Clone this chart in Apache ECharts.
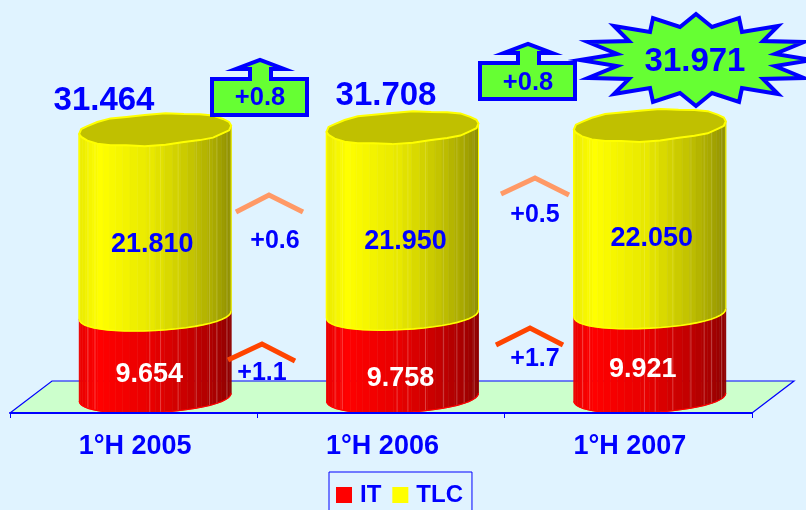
<!DOCTYPE html>
<html>
<head>
<meta charset="utf-8">
<style>
    html, body { margin: 0; padding: 0; background: #e0f3ff; overflow: hidden; }
    #chart { width: 806px; height: 510px; }
</style>
<script src="https://cdn.jsdelivr.net/npm/echarts@6/dist/echarts.min.js"></script>
</head>
<body>
<div id="chart"></div>
<script>
const categories = ['1°H 2005', '1°H 2006', '1°H 2007'];
const itValues = [9654, 9758, 9921];
const tlcValues = [21810, 21950, 22050];
const totalLabels = ['31.464', '31.708', '31.971'];
const itLabels = ['9.654', '9.758', '9.921'];
const tlcLabels = ['21.810', '21.950', '22.050'];
const totalChange = ['+0.8', '+0.8'];
const tlcChange = ['+0.6', '+0.5'];
const itChange = ['+1.1', '+1.7'];

const FONT = '"Liberation Sans", Arial, sans-serif';
const BLUE = '#0000ff';
const GREEN = '#66ff33';

// pixel nudges of the value labels, the source chart placed them by hand
const itNudge = [[-6, 3], [-2, 7], [-7, -1]];
const tlcNudge = [[-3, 6], [3, 5], [2, 4]];

// brightness across the cylinder, left edge to right edge
const shade = [[0, 0.92], [0.14, 1], [0.5, 0.9], [0.72, 0.78], [0.9, 0.66], [1, 0.56]];
// where the thin facet lines sit across the cylinder
const facetLines = [0.06, 0.11, 0.47, 0.53, 0.64, 0.76, 0.85, 0.9, 0.97];
// small irregularity of the lid outline, the source polygon is not a clean ellipse
const lidWobble = [0, 0.6, -0.4, 0.6, 0, -0.6, 0.4, 0.7, -0.4, 0.4, 0.6, 0, -0.6, 0.4, -0.4, 0.6, 0, -0.6, 0.4, 0.4, -0.4, 0.6, 0, -0.5, 0.5, 0.3];

function shadeAt(u) {
    for (let i = 1; i < shade.length; i++) {
        if (u <= shade[i][0]) {
            const k = (u - shade[i - 1][0]) / (shade[i][0] - shade[i - 1][0]);
            return shade[i - 1][1] + k * (shade[i][1] - shade[i - 1][1]);
        }
    }
    return 1;
}

function soft(v) {
    return Math.sign(v) * Math.pow(Math.abs(v), 0.94);
}

function ringPoint(cx, cy, t) {
    const c = soft(Math.cos(t));
    return [cx + 76 * c, cy + 15.5 * soft(Math.sin(t)) - 4 * c];
}

function cylinderPart(api, rgb, lineAlpha, isTop) {
    const i = api.value(0);
    const cx = api.coord([i, 0])[0] + 21.5;
    const yLow = api.coord([i, api.value(1)])[1] - 16;
    const yHigh = api.coord([i, api.value(2)])[1] - 16;
    const children = [];
    const steps = 30;

    for (let s = 0; s < steps; s++) {
        const t0 = Math.PI - Math.PI * s / steps;
        const t1 = Math.PI - Math.PI * (s + 1) / steps;
        const a = ringPoint(cx, yLow, t0);
        const b = ringPoint(cx, yLow, t1);
        const c = ringPoint(cx, yHigh, t1);
        const d = ringPoint(cx, yHigh, t0);
        const f = shadeAt(((a[0] + b[0]) / 2 - cx + 76) / 152);
        const color = 'rgb(' + rgb.map(function (v) { return Math.round(v * f); }).join(',') + ')';
        children.push({
            type: 'polygon',
            shape: { points: [a, b, c, d] },
            style: { fill: color, stroke: color, lineWidth: 0.6 }
        });
    }

    facetLines.forEach(function (u) {
        const t = Math.acos(2 * u - 1);
        const low = ringPoint(cx, yLow, t);
        const high = ringPoint(cx, yHigh, t);
        children.push({
            type: 'line',
            shape: { x1: low[0], y1: low[1], x2: high[0], y2: high[1] },
            style: { stroke: 'rgba(255,255,255,' + lineAlpha + ')', lineWidth: 1 }
        });
    });

    // outline of the front curves
    const lower = [];
    const upper = [];
    for (let s = 0; s <= 24; s++) {
        const t = Math.PI - Math.PI * s / 24;
        lower.push(ringPoint(cx, yLow, t));
        upper.push(ringPoint(cx, yHigh, t));
    }
    const edge = 'rgb(' + rgb.join(',') + ')';
    if (!isTop) {
        children.push({ type: 'polyline', shape: { points: lower }, style: { stroke: edge, lineWidth: 1.2, fill: 'none' } });
    }
    if (isTop) {
        children.push({ type: 'polyline', shape: { points: lower }, style: { stroke: edge, lineWidth: 1.6, fill: 'none' } });
        children.push({
            type: 'polyline',
            shape: { points: [lower[0], upper[0]] },
            style: { stroke: edge, lineWidth: 1.6, fill: 'none' }
        });
        children.push({
            type: 'polyline',
            shape: { points: [lower[24], upper[24]] },
            style: { stroke: edge, lineWidth: 1, fill: 'none' }
        });
        const lid = [];
        for (let s = 0; s < lidWobble.length; s++) {
            const p = ringPoint(cx, yHigh, Math.PI * 2 * s / lidWobble.length);
            lid.push([p[0], p[1] + lidWobble[s]]);
        }
        children.push({
            type: 'polygon',
            shape: { points: lid },
            style: { fill: '#c0c000', stroke: '#ffff00', lineWidth: 2 }
        });
    }

    const nudge = isTop ? tlcNudge[i] : itNudge[i];
    children.push({
        type: 'text',
        x: cx + nudge[0],
        y: (api.coord([i, api.value(1)])[1] + api.coord([i, api.value(2)])[1]) / 2 + nudge[1],
        style: {
            text: isTop ? tlcLabels[i] : itLabels[i],
            fill: isTop ? BLUE : '#ffffff',
            fontSize: 27,
            fontWeight: 'bold',
            fontFamily: FONT,
            align: 'center',
            verticalAlign: 'middle'
        }
    });
    return { type: 'group', children: children };
}

function floorPlane(params) {
    const c = params.coordSys;
    const x0 = c.x;
    const x1 = c.x + c.width;
    const y0 = c.y + c.height;
    return {
        type: 'group',
        children: [
            {
                type: 'polygon',
                shape: { points: [[x0, y0], [x1, y0], [x1 + 42, y0 - 32], [x0 + 42, y0 - 32]] },
                style: { fill: '#ccffcc', stroke: 'none' }
            },
            {
                type: 'polyline',
                shape: { points: [[x0, y0], [x0 + 42, y0 - 32], [x1 + 42, y0 - 32], [x1, y0]] },
                style: { stroke: BLUE, lineWidth: 1.2, fill: 'none' }
            }
        ]
    };
}

function caption(text, x, y, size, fill) {
    return {
        type: 'text',
        x: x,
        y: y + 2,
        z: 30,
        style: {
            text: text,
            fill: fill || BLUE,
            fontSize: size,
            fontWeight: 'bold',
            fontFamily: FONT,
            align: 'center',
            verticalAlign: 'middle'
        }
    };
}

function chevron(points, color) {
    return {
        type: 'polyline',
        z: 25,
        shape: { points: points },
        style: { stroke: color, lineWidth: 5, fill: 'none', lineJoin: 'miter' }
    };
}

function upBox(dx, dy) {
    const pts = [
        [212, 79], [250, 79], [250, 69], [236, 69], [260, 60], [284, 69], [271, 69], [271, 79],
        [307, 79], [307, 115], [212, 115]
    ].map(function (p) { return [p[0] + dx, p[1] + dy]; });
    return {
        type: 'polygon',
        z: 20,
        shape: { points: pts },
        style: { fill: GREEN, stroke: BLUE, lineWidth: 4, lineJoin: 'miter', miterLimit: 10 }
    };
}

function starBurst(cx, cy) {
    const right = [
        [0, -46], [16, -33], [43, -42], [46, -28], [82, -34], [67, -19], [108, -18], [79, -6], [116, 0],
        [79, 6], [108, 18], [67, 19], [82, 34], [46, 28], [43, 42], [16, 33], [0, 46]
    ];
    const left = right.slice(1, -1).reverse().map(function (p) { return [-p[0], p[1]]; });
    const pts = right.concat(left).map(function (p) { return [cx + p[0], cy + p[1]]; });
    return {
        type: 'polygon',
        z: 20,
        shape: { points: pts },
        style: { fill: GREEN, stroke: BLUE, lineWidth: 4, lineJoin: 'miter', miterLimit: 10 }
    };
}

const chart = echarts.init(document.getElementById('chart'));

const option = {
    backgroundColor: '#e0f3ff',
    animation: false,
    grid: { left: 10, right: 54, top: 5, bottom: 97 },
    xAxis: {
        type: 'category',
        data: categories,
        z: 8,
        axisLine: { lineStyle: { color: BLUE, width: 2 } },
        axisTick: { show: true, length: 5, lineStyle: { color: BLUE, width: 1 } },
        axisLabel: {
            color: BLUE,
            fontSize: 27,
            fontWeight: 'bold',
            fontFamily: FONT,
            margin: 20,
            padding: [0, 0, 0, 3],
            interval: 0
        }
    },
    yAxis: { type: 'value', min: 0, max: 48000, show: false },
    legend: {
        data: ['IT', 'TLC'],
        left: 329,
        top: 472,
        orient: 'horizontal',
        icon: 'rect',
        itemWidth: 16,
        itemHeight: 16,
        itemGap: 11,
        padding: [11, 9, 24, 7],
        borderColor: BLUE,
        borderWidth: 1,
        selectedMode: false,
        textStyle: {
            color: BLUE,
            fontSize: 24,
            fontWeight: 'bold',
            fontFamily: FONT,
            padding: [0, 0, 0, 3]
        }
    },
    series: [
        {
            name: 'floor',
            type: 'custom',
            z: 1,
            silent: true,
            data: [[0]],
            renderItem: function (params) { return floorPlane(params); }
        },
        {
            name: 'IT',
            type: 'custom',
            z: 3,
            itemStyle: { color: '#ff0000' },
            encode: { x: 0, y: 2 },
            data: categories.map(function (c, i) { return [i, 0, itValues[i]]; }),
            renderItem: function (params, api) { return cylinderPart(api, [255, 0, 0], 0.25, false); }
        },
        {
            name: 'TLC',
            type: 'custom',
            z: 4,
            itemStyle: { color: '#ffff00' },
            encode: { x: 0, y: 2 },
            data: categories.map(function (c, i) { return [i, itValues[i], itValues[i] + tlcValues[i]]; }),
            renderItem: function (params, api) { return cylinderPart(api, [255, 255, 0], 0.15, true); }
        }
    ],
    graphic: {
        elements: [
            caption(totalLabels[0], 104, 99, 33),
            caption(totalLabels[1], 386, 94, 33),
            upBox(0, 0),
            upBox(268, -16),
            caption(totalChange[0], 260, 96, 25.5),
            caption(totalChange[1], 528, 81, 25.5),
            starBurst(696, 60),
            caption(totalLabels[2], 695, 60, 33),
            chevron([[236, 212], [269, 195], [303, 212]], '#ff9966'),
            chevron([[501, 194], [535, 178], [569, 195]], '#ff9966'),
            chevron([[228, 360], [262, 344], [295, 361]], '#ff4400'),
            chevron([[496, 345], [530, 328], [563, 345]], '#ff4400'),
            caption(tlcChange[0], 275, 239, 25),
            caption(tlcChange[1], 535, 213, 25),
            caption(itChange[0], 262, 371, 25),
            caption(itChange[1], 535, 357, 25)
        ]
    }
};

chart.setOption(option);
</script>
</body>
</html>
